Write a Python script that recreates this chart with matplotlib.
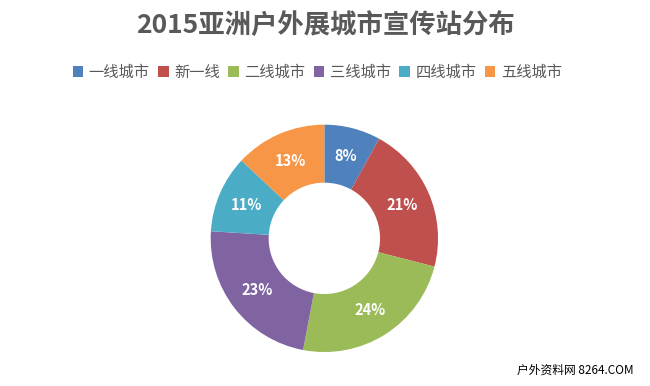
import matplotlib
matplotlib.use("Agg")
import matplotlib.pyplot as plt
from matplotlib.patches import Patch

plt.rcParams['font.family'] = ['Noto Sans CJK SC', 'DejaVu Sans']

categories = ['一线城市', '新一线', '二线城市', '三线城市', '四线城市', '五线城市']
values = [8, 21, 24, 23, 11, 13]
colors = ['#4F81BD', '#C0504D', '#9BBB59', '#8064A2', '#4BACC6', '#F79646']
title = '2015亚洲户外展城市宣传站分布'

fig = plt.figure(figsize=(6.5, 3.86), dpi=100)
fig.patch.set_facecolor('white')

ax = fig.add_axes([0.324, 0.088, 0.35, 0.589])
wedges, texts, autotexts = ax.pie(
    values, colors=colors, startangle=90, counterclock=False,
    radius=1.0, wedgeprops=dict(width=0.51, edgecolor='none', linewidth=0),
    autopct=lambda p: f'{p:.0f}%', pctdistance=0.745,
    textprops=dict(color='white', fontsize=10.5, fontweight='bold'))
ax.set_xlim(-1, 1)
ax.set_ylim(-1, 1)
ax.set_aspect('equal')

fig.text(0.5, 0.935, title, ha='center', va='center', fontsize=19,
         fontweight='bold', color='#595959')

handles = [Patch(facecolor=c, edgecolor='none') for c in colors]
fig.legend(handles, categories, loc='center', bbox_to_anchor=(0.488, 0.813),
           ncol=6, frameon=False, fontsize=11, labelcolor='#595959',
           handlelength=0.7, handleheight=0.7, handletextpad=0.35,
           columnspacing=0.55)

fig.text(0.885, 0.04, '户外资料网 8264.COM', ha='center', va='center',
         fontsize=8.5, color='black')

fig.savefig('out.png', dpi=100, facecolor='white')
